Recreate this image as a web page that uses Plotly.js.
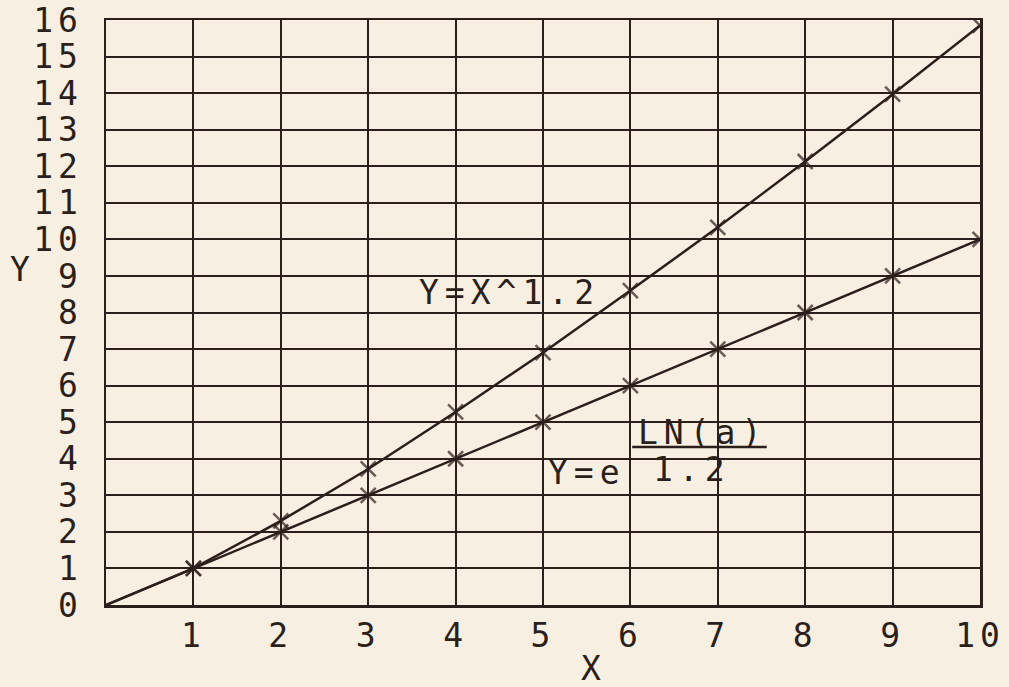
<!DOCTYPE html>
<html>
<head>
<meta charset="utf-8">
<script src="https://cdn.plot.ly/plotly-3.0.1.min.js"></script>
<style>
html,body{margin:0;padding:0;background:#f7efe1;}
#chart{width:1009px;height:687px;}
.xtick text,.ytick text{letter-spacing:5px;}
.annotation-text{letter-spacing:6px;}
</style>
</head>
<body>
<div id="chart"></div>
<script>
const xValues = [0, 1, 2, 3, 4, 5, 6, 7, 8, 9, 10];
const powerY = [0, 1, 2.3, 3.72, 5.28, 6.9, 8.6, 10.33, 12.13, 13.97, 15.85];
const expY = [0, 1, 2, 3, 4, 5, 6, 7, 8, 9, 10];
const xTicks = [1, 2, 3, 4, 5, 6, 7, 8, 9, 10];
const yTicks = [0, 1, 2, 3, 4, 5, 6, 7, 8, 9, 10, 11, 12, 13, 14, 15, 16];

const ink = '#2a1f1a';
const font = 'DejaVu Sans Mono';
const fs = 33;

function markerSizes(arr){ return arr.map((v,i)=> i===0 ? 0 : 15); }

const traces = [
  {x: xValues, y: powerY, mode: 'lines+markers', line: {color: ink, width: 2.5},
   marker: {symbol: 'x-thin', size: markerSizes(xValues), line: {color: ink, width: 2.5}, color: ink},
   hoverinfo: 'skip'},
  {x: xValues, y: expY, mode: 'lines+markers', line: {color: ink, width: 2.5},
   marker: {symbol: 'x-thin', size: markerSizes(xValues), line: {color: ink, width: 2.5}, color: ink},
   hoverinfo: 'skip'}
];

const layout = {
  width: 1009, height: 687,
  margin: {l: 106, r: 29, t: 20, b: 82},
  paper_bgcolor: '#f7efe1', plot_bgcolor: '#f7efe1',
  showlegend: false,
  font: {family: font, color: ink, size: fs},
  xaxis: {range: [0, 10], tickvals: xTicks, ticktext: xTicks.map(String),
    showgrid: true, gridcolor: ink, gridwidth: 2, zeroline: false,
    showline: true, mirror: true, linecolor: ink, linewidth: 2.5,
    ticks: '', ticklabelstandoff: 0, tickfont: {family: font, size: fs, color: ink}},
  yaxis: {range: [0, 16], tickvals: yTicks, ticktext: yTicks.map(String),
    showgrid: true, gridcolor: ink, gridwidth: 2, zeroline: false,
    showline: true, mirror: true, linecolor: ink, linewidth: 2.5,
    ticks: '', ticklabelstandoff: 14, tickfont: {family: font, size: fs, color: ink}},
  annotations: [
    {xref: 'paper', yref: 'paper', x: -0.112, y: 0.574, text: 'Y', showarrow: false,
     font: {family: font, size: fs, color: ink}},
    {xref: 'paper', yref: 'paper', x: 0.558, y: -0.108, yanchor: 'middle', text: 'X', showarrow: false,
     font: {family: font, size: fs, color: ink}},
    {x: 4.62, y: 8.56, text: 'Y=X^1.2', showarrow: false, font: {family: font, size: fs, color: ink}},
    {x: 5.5, y: 3.62, text: 'Y=e', showarrow: false, font: {family: font, size: fs, color: ink}},
    {x: 6.82, y: 4.72, text: 'LN(a)', showarrow: false, font: {family: font, size: fs, color: ink}},
    {x: 6.7, y: 3.7, text: '1.2', showarrow: false, font: {family: font, size: fs, color: ink}}
  ],
  shapes: [
    {type: 'line', x0: 6.02, x1: 7.56, y0: 4.32, y1: 4.32, line: {color: ink, width: 2.5}}
  ]
};

Plotly.newPlot('chart', traces, layout, {staticPlot: true});
</script>
</body>
</html>
